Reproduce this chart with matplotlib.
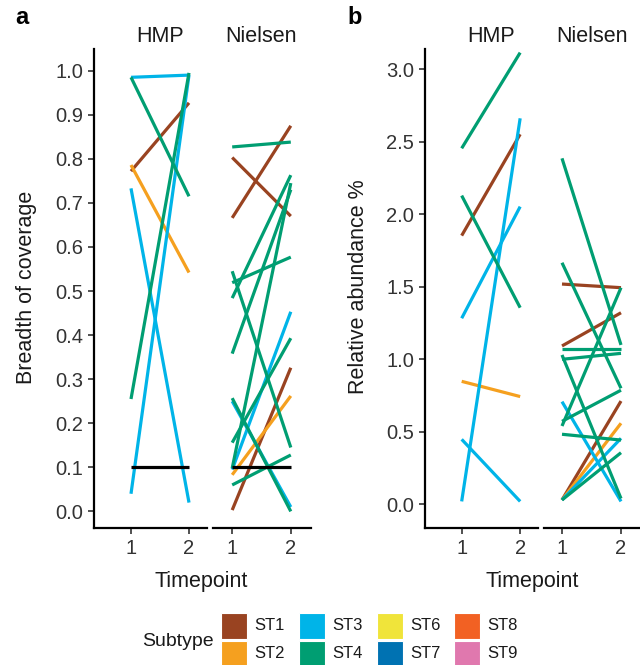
import matplotlib
matplotlib.use("Agg")
import matplotlib.pyplot as plt
from matplotlib.patches import Rectangle

plt.rcParams['font.family'] = ['Liberation Sans', 'DejaVu Sans']

# ---------------- data ----------------
subtypes = ["ST1", "ST2", "ST3", "ST4", "ST6", "ST7", "ST8", "ST9"]
subtype_colors = ["#994321", "#F5A01F", "#00B4E8", "#009E72",
                  "#F0E43A", "#0072B2", "#F26123", "#E078AE"]
timepoints = [1, 2]
facets = ["HMP", "Nielsen"]
threshold = 0.1

# Panel a: breadth of coverage
hmp_a_sub = ["ST3", "ST4", "ST1", "ST2", "ST3", "ST4", "ST3"]
hmp_a_t1 = [0.985, 0.985, 0.772, 0.786, 0.733, 0.255, 0.040]
hmp_a_t2 = [0.990, 0.715, 0.927, 0.542, 0.020, 0.995, 0.990]

niel_a_sub = ["ST4", "ST4", "ST4", "ST4", "ST4", "ST4", "ST4", "ST4", "ST4",
              "ST3", "ST3", "ST1", "ST1", "ST1", "ST2"]
niel_a_t1 = [0.827, 0.519, 0.484, 0.358, 0.545, 0.257, 0.156, 0.098, 0.060,
             0.095, 0.250, 0.803, 0.666, 0.003, 0.083]
niel_a_t2 = [0.838, 0.577, 0.763, 0.730, 0.145, 0.000, 0.393, 0.745, 0.128,
             0.453, 0.010, 0.670, 0.875, 0.326, 0.262]

# Panel b: relative abundance %
hmp_b_sub = ["ST4", "ST1", "ST4", "ST3", "ST3", "ST2", "ST3"]
hmp_b_t1 = [2.455, 1.853, 2.129, 1.283, 0.020, 0.848, 0.448]
hmp_b_t2 = [3.115, 2.552, 1.356, 2.053, 2.662, 0.743, 0.020]

niel_b_sub = ["ST4", "ST4", "ST4", "ST4", "ST4", "ST4", "ST4", "ST4", "ST4",
              "ST3", "ST3", "ST1", "ST1", "ST1", "ST2"]
niel_b_t1 = [2.386, 1.666, 1.071, 1.000, 0.540, 0.572, 0.483, 0.030, 1.030,
             0.708, 0.030, 1.519, 1.092, 0.030, 0.030]
niel_b_t2 = [1.099, 0.800, 1.071, 1.041, 1.494, 0.787, 0.443, 0.356, 0.040,
             0.020, 0.455, 1.494, 1.321, 0.712, 0.559]

a_ticks = [0.0, 0.1, 0.2, 0.3, 0.4, 0.5, 0.6, 0.7, 0.8, 0.9, 1.0]
b_ticks = [0.0, 0.5, 1.0, 1.5, 2.0, 2.5, 3.0]

# ---------------- layout ----------------
W, H = 640, 665
fig = plt.figure(figsize=(W / 100, H / 100), dpi=100)
color_of = dict(zip(subtypes, subtype_colors))
draw_order = {s: i for i, s in enumerate(subtypes)}
TXT = "#333333"
FS_TICK = 14.5
FS_TITLE = 15.5


def px_axes(l, t, r, b):
    return fig.add_axes([l / W, 1 - b / H, (r - l) / W, (b - t) / H])


def style(ax, ylim, yticks, show_y):
    ax.set_ylim(*ylim)
    ax.set_xticks(timepoints)
    ax.set_xticklabels([str(t) for t in timepoints], fontsize=FS_TICK, color=TXT)
    for s in ["top", "right"]:
        ax.spines[s].set_visible(False)
    ax.spines["bottom"].set_linewidth(1.6)
    ax.tick_params(axis="both", length=4, width=1.2, color="#333333", pad=4)
    if show_y:
        ax.spines["left"].set_linewidth(1.6)
        ax.set_yticks(yticks)
        ax.set_yticklabels([f"{v:.1f}" for v in yticks], fontsize=FS_TICK, color=TXT)
    else:
        ax.spines["left"].set_visible(False)
        ax.set_yticks([])
    ax.patch.set_alpha(0)


def draw(ax, subs, t1, t2):
    rows = sorted(zip(subs, t1, t2), key=lambda r: draw_order[r[0]])
    for s, a, b in rows:
        ax.plot(timepoints, [a, b], color=color_of[s], lw=2.3,
                solid_capstyle="butt", clip_on=False)


top, bot = 49, 528
# panel a
ylim_a = ((511.4 - bot) / 440.7, (511.4 - top) / 440.7)
ax1 = px_axes(94, top, 207, bot)
ax1.set_xlim(1 - 37 / 58, 2 + 18 / 58)
ax2 = px_axes(213, top, 311, bot)
ax2.set_xlim(1 - 19 / 58, 2 + 20 / 58)
style(ax1, ylim_a, a_ticks, True)
style(ax2, ylim_a, a_ticks, False)
draw(ax1, hmp_a_sub, hmp_a_t1, hmp_a_t2)
draw(ax2, niel_a_sub, niel_a_t1, niel_a_t2)
for ax in (ax1, ax2):
    ax.plot(timepoints, [threshold, threshold], color="black", lw=2.3,
            solid_capstyle="butt")

# panel b
ylim_b = ((504.3 - bot) / 145.0, (504.3 - top) / 145.0)
ax3 = px_axes(425, top, 538, bot)
ax3.set_xlim(1 - 37 / 59, 2 + 18 / 59)
ax4 = px_axes(544, top, 639, bot)
ax4.set_xlim(1 - 18 / 59, 2 + 18 / 59)
style(ax3, ylim_b, b_ticks, True)
style(ax4, ylim_b, b_ticks, False)
draw(ax3, hmp_b_sub, hmp_b_t1, hmp_b_t2)
draw(ax4, niel_b_sub, niel_b_t1, niel_b_t2)

# strip labels
for ax, name in ((ax1, facets[0]), (ax2, facets[1]), (ax3, facets[0]), (ax4, facets[1])):
    ax.text(1.5, 1.0 + 12 / (bot - top), name, transform=ax.get_xaxis_transform(),
            ha="center", va="center", fontsize=FS_TITLE, color="#1a1a1a")

fig.text(27 / W, 1 - 287 / H, "Breadth of coverage", rotation=90, ha="center",
         va="center", fontsize=FS_TITLE, color="#1a1a1a")
fig.text(358 / W, 1 - 287 / H, "Relative abundance %", rotation=90, ha="center",
         va="center", fontsize=FS_TITLE, color="#1a1a1a")
fig.text(201 / W, 1 - 581 / H, "Timepoint", ha="center", va="center",
         fontsize=FS_TITLE, color="#1a1a1a")
fig.text(532 / W, 1 - 581 / H, "Timepoint", ha="center", va="center",
         fontsize=FS_TITLE, color="#1a1a1a")
fig.text(22 / W, 1 - 18 / H, "a", ha="center", va="center", fontsize=17,
         fontweight="bold")
fig.text(355 / W, 1 - 18 / H, "b", ha="center", va="center", fontsize=17,
         fontweight="bold")

# legend
lg = fig.add_axes([0, 0, 1, 1])
lg.set_xlim(0, W)
lg.set_ylim(H, 0)
lg.axis("off")
lg.text(178, 641, "Subtype", ha="center", va="center", fontsize=14, color="#1a1a1a")
col_x = [221, 299, 377, 454]
row_y = [613, 641]
for i, (s, c) in enumerate(zip(subtypes, subtype_colors)):
    col, row = i // 2, i % 2
    x, y = col_x[col], row_y[row]
    lg.add_patch(Rectangle((x, y), 26, 26, facecolor=c, edgecolor="white", lw=0.8))
    lg.text(x + 33, y + 13, s, ha="left", va="center", fontsize=12,
            color="#1a1a1a")

fig.savefig("out.png", dpi=100)
